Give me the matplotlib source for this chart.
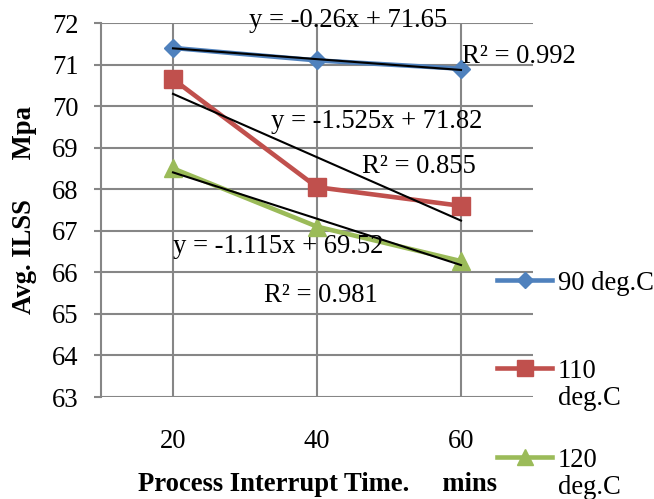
import numpy as np
import matplotlib.pyplot as plt
from matplotlib.lines import Line2D

plt.rcParams['font.family'] = ['Liberation Serif', 'DejaVu Serif']

# interrupt times (category axis)
times = ['20', '40', '60']

# average ILSS for each cure temperature
ilss_90 = [71.4, 71.1, 70.9]
ilss_110 = [70.65, 68.05, 67.6]
ilss_120 = [68.5, 67.1, 66.27]

series_labels = [['90 deg.C'], ['110', 'deg.C'], ['120', 'deg.C']]
colors = ['#4F81BD', '#C0504D', '#9BBB59']
markers = ['D', 's', '^']
marker_sizes = [9, 13.5, 13.5]

# linear trendlines (x = category number 1..3)
slopes = [-0.26, -1.525, -1.115]
intercepts = [71.65, 71.82, 69.52]
r_squared = [0.992, 0.855, 0.981]

W, H = 654, 499
fs = 19.2
fig = plt.figure(figsize=(W / 100, H / 100), dpi=100)
ax = fig.add_axes([101 / W, 1 - 397 / H, 432 / W, 374 / H])

x = np.arange(len(times))
for vals, c, m, ms in zip([ilss_90, ilss_110, ilss_120], colors, markers,
                          marker_sizes):
    ax.plot(x, vals, color=c, lw=3.3, marker=m, ms=ms, mec=c, mfc=c, zorder=3)

# trendlines over the data lines
xn = np.arange(1, len(times) + 1)
for s, b in zip(slopes, intercepts):
    ax.plot(x, s * xn + b, color='black', lw=1.5, zorder=4)

# equation and R² labels
eq_pos = [(0.53, 71.90), (0.68, 69.47), (0.0, 66.47)]
r2_pos = [(2.01, 71.04), (1.31, 68.39), (0.63, 65.29)]
for s, b, r2, ep, rp in zip(slopes, intercepts, r_squared, eq_pos, r2_pos):
    ax.text(ep[0], ep[1], 'y = %gx + %g' % (s, b), fontsize=fs,
            va='baseline', ha='left', zorder=5)
    ax.text(rp[0], rp[1], 'R² = %.3f' % r2, fontsize=fs,
            va='baseline', ha='left', zorder=5)

ax.set_xlim(-0.5, 2.5)
ax.set_ylim(63, 72)
ax.set_xticks(x)
ax.set_xticklabels(times)
ax.set_yticks(np.arange(63, 73, 1))

grid_c = '#868686'
ax.grid(True, color=grid_c, lw=1.5)
ax.set_axisbelow(True)
for side in ['top', 'right', 'bottom']:
    ax.spines[side].set_visible(False)
ax.spines['left'].set_color(grid_c)
ax.spines['left'].set_linewidth(1.5)
ax.tick_params(axis='y', length=5, width=1.5, color=grid_c, pad=11,
               labelsize=fs)
ax.tick_params(axis='x', length=0, pad=23, labelsize=fs)

ax.set_xlabel('Process Interrupt Time.     mins', fontsize=fs,
              fontweight='bold', labelpad=13)
ax.set_ylabel('Avg. ILSS      Mpa', fontsize=fs, fontweight='bold',
              labelpad=11)

# legend: key aligned with the first line of each label
key_rows = [280, 368, 457]
for lines, c, m, ms, yk in zip(series_labels, colors, markers, marker_sizes,
                               key_rows):
    fig.add_artist(Line2D([497 / W, 552 / W], [1 - yk / H, 1 - yk / H],
                          color=c, lw=3.3))
    fig.add_artist(Line2D([524.5 / W], [1 - yk / H], color=c, marker=m,
                          ms=ms * 0.85, mec=c, mfc=c))
    for i, t in enumerate(lines):
        fig.text(558 / W, 1 - (yk + 10 + 27 * i) / H, t, fontsize=fs,
                 va='baseline', ha='left')

fig.savefig('out.png', dpi=100)
